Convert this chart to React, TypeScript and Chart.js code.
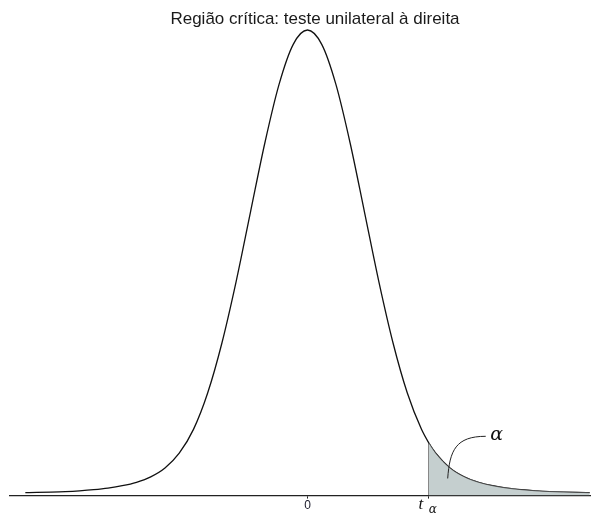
import { useEffect, useRef } from 'react';
import { Chart, registerables } from 'chart.js';

Chart.register(...registerables);

// Curve: t value and relative density (peak = 1)
const tValues = [
  -4.95, -4.75, -4.5, -4.25, -4.0, -3.75, -3.5, -3.25, -3.0, -2.75, -2.5, -2.25, -2.0,
  -1.75, -1.5, -1.25, -1.0, -0.75, -0.5, -0.25, 0,
  0.25, 0.5, 0.75, 1.0, 1.25, 1.5, 1.75, 2.0, 2.13, 2.25, 2.5, 2.75, 3.0, 3.25, 3.5,
  3.75, 4.0, 4.25, 4.5, 4.75, 4.95,
];
const densityValues = [
  0.0013, 0.0018, 0.0026, 0.0037, 0.0054, 0.0078, 0.0112, 0.0163, 0.0238, 0.0355, 0.0546,
  0.0865, 0.138, 0.217, 0.325, 0.458, 0.607, 0.755, 0.882, 0.969, 1.0,
  0.969, 0.882, 0.755, 0.607, 0.458, 0.325, 0.217, 0.138, 0.1084, 0.0865, 0.0546, 0.0355,
  0.0238, 0.0163, 0.0112, 0.0078, 0.0054, 0.0037, 0.0026, 0.0018, 0.0013,
];
const tAlpha = 2.13;
const tickValues = [0, tAlpha];
const tickLabels = ['0', ''];
const titleText = 'Região crítica: teste unilateral à direita';
const alphaText = 'α';
const tAlphaMain = 't';
const tAlphaSub = 'α';

const X_MIN = -5.219;
const X_MAX = 4.974;
const Y_MIN = -0.005;
const Y_MAX = 1.0;

export default function App() {
  const ref = useRef<HTMLCanvasElement | null>(null);

  useEffect(() => {
    const canvas = ref.current;
    if (!canvas) return;

    const curve = tValues.map((x, i) => ({ x, y: densityValues[i] }));
    const tail = curve.filter((p) => p.x >= tAlpha);
    const edgeTop = tail[0].y;
    const edge = [
      { x: tAlpha, y: Y_MIN },
      { x: tAlpha, y: edgeTop },
    ];

    const annotations = {
      id: 'annotations',
      afterDraw(chart: any) {
        const { ctx, scales } = chart;
        const xs = scales.x;
        const ys = scales.y;
        ctx.save();
        // title
        ctx.fillStyle = '#1a1a1a';
        ctx.font = '17px "Liberation Sans", Arial, sans-serif';
        ctx.textAlign = 'center';
        ctx.textBaseline = 'middle';
        ctx.fillText(titleText, 315, 19);

        // alpha leader line and label
        const p0x = xs.getPixelForValue(2.46);
        const p0y = ys.getPixelForValue(0.032);
        const lx = xs.getPixelForValue(3.32);
        const ly = ys.getPixelForValue(0.123);
        const p3x = lx - 11;
        const p3y = ly;
        ctx.strokeStyle = '#222';
        ctx.lineWidth = 1;
        ctx.beginPath();
        ctx.moveTo(p0x, p0y);
        ctx.bezierCurveTo(p0x + 2, p0y - 28, p0x + 8, p3y, p3x, p3y);
        ctx.stroke();
        ctx.fillStyle = '#111';
        ctx.font = 'italic 19px "DejaVu Serif", "Liberation Serif", serif';
        ctx.textAlign = 'center';
        ctx.textBaseline = 'middle';
        ctx.fillText(alphaText, lx, ly - 1);

        // t_alpha tick label
        const tx = xs.getPixelForValue(tAlpha);
        const baseY = xs.bottom - 8;
        ctx.font = 'italic 17px "Liberation Serif", "DejaVu Serif", serif';
        ctx.fillText(tAlphaMain, tx - 8, baseY);
        ctx.font = 'italic 12px "DejaVu Serif", "Liberation Serif", serif';
        ctx.fillText(tAlphaSub, tx + 4, baseY + 5);
        ctx.restore();
      },
    };

    const chart = new Chart(canvas, {
      type: 'line',
      data: {
        datasets: [
          {
            data: tail,
            borderColor: '#444',
            borderWidth: 0.8,
            backgroundColor: '#c5cfcf',
            fill: 'start',
            pointRadius: 0,
            cubicInterpolationMode: 'monotone',
          },
          {
            data: edge,
            borderColor: '#555',
            borderWidth: 1.2,
            pointRadius: 0,
            fill: false,
          },
          {
            data: curve,
            borderColor: '#111',
            borderWidth: 1.3,
            pointRadius: 0,
            fill: false,
            cubicInterpolationMode: 'monotone',
            clip: false as any,
          },
        ],
      },
      options: {
        animation: false,
        responsive: false,
        devicePixelRatio: 1,
        layout: { padding: { top: 30, left: 10, right: 0, bottom: 0 } },
        plugins: {
          legend: { display: false },
          title: { display: false },
          tooltip: { enabled: false },
        },
        scales: {
          x: {
            type: 'linear',
            min: X_MIN,
            max: X_MAX,
            afterBuildTicks: (scale: any) => {
              scale.ticks = tickValues.map((v) => ({ value: v }));
            },
            ticks: {
              autoSkip: false,
              maxRotation: 0,
              padding: 0,
              color: '#1a1a2a',
              font: { family: '"Liberation Sans", Arial, sans-serif', size: 12, lineHeight: 1.2 },
              callback: (v: any) => {
                const i = tickValues.findIndex((t) => Math.abs(t - Number(v)) < 1e-9);
                return i >= 0 ? tickLabels[i] : '';
              },
            },
            grid: {
              display: true,
              drawOnChartArea: false,
              drawTicks: true,
              tickLength: 3,
              color: '#222',
            },
            border: { display: true, color: '#222', width: 1.3 },
          },
          y: {
            type: 'linear',
            display: false,
            min: Y_MIN,
            max: Y_MAX,
          },
        },
      },
      plugins: [annotations],
    });

    return () => chart.destroy();
  }, []);

  return (
    <div style={{ position: 'fixed', left: 0, top: 0, width: 591, height: 513, background: '#fff' }}>
      <canvas ref={ref} width={591} height={513} />
    </div>
  );
}
